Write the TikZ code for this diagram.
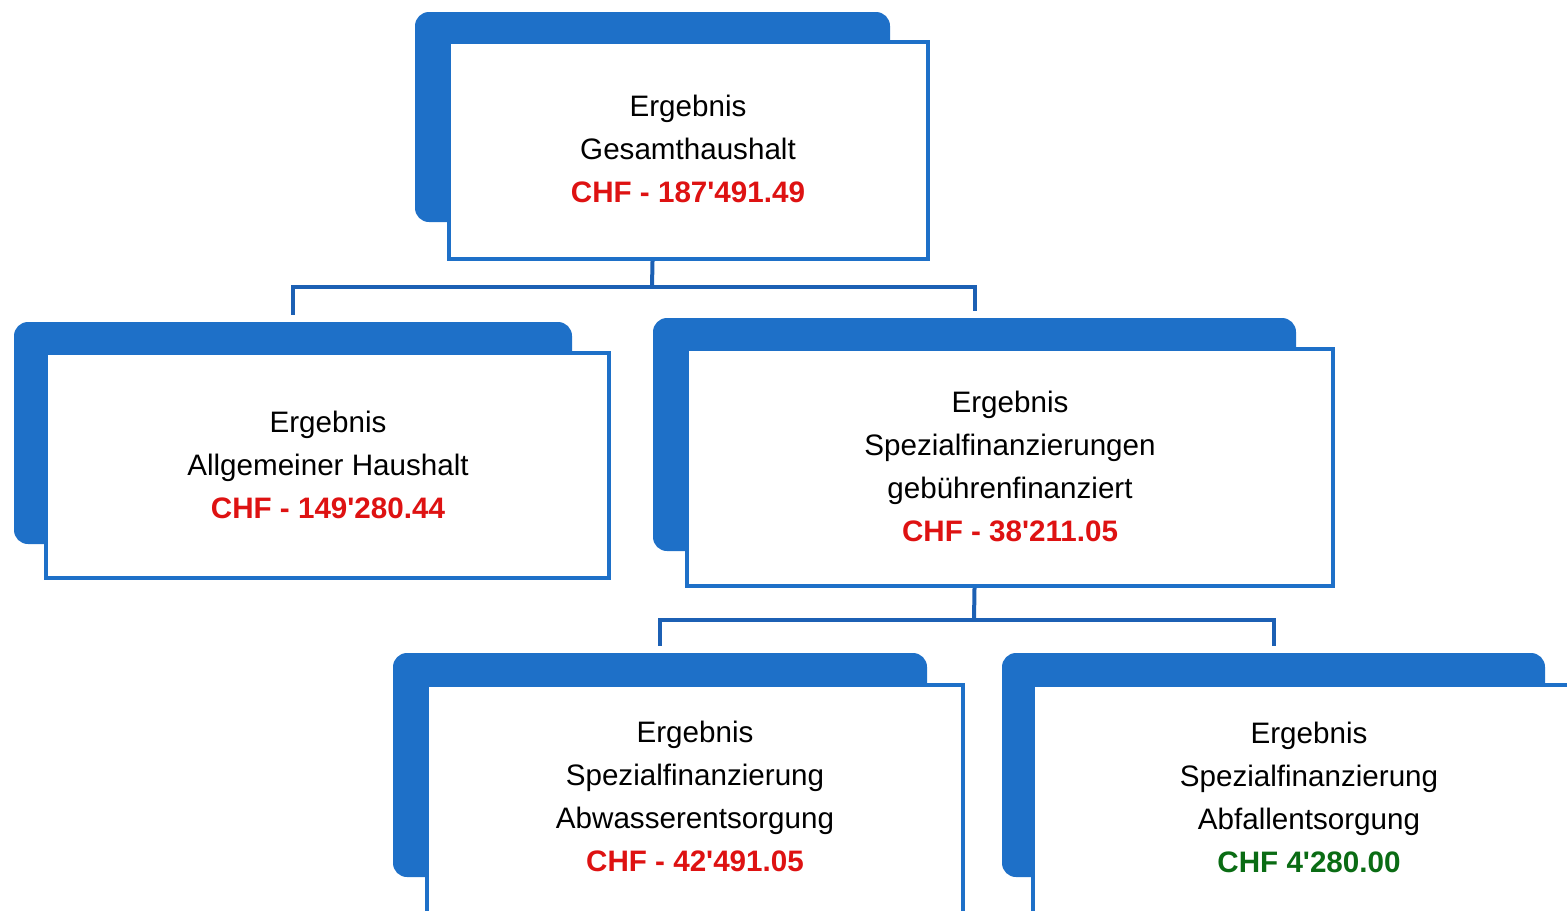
\documentclass[tikz,border=0pt]{standalone}
\usepackage{fontspec}
\setmainfont{Liberation Sans}
\usepackage{xcolor}
\definecolor{boxblue}{RGB}{30,112,200}
\definecolor{lineblue}{RGB}{28,96,180}
\definecolor{minusred}{RGB}{222,18,18}
\definecolor{plusgreen}{RGB}{10,108,20}
\newcommand{\apo}{\textquotesingle}

\begin{document}
\begin{tikzpicture}[x=0.5pt,y=-0.5pt,
  every text node part/.style={align=center},
  back/.style={fill=boxblue,rounded corners=7pt,inner sep=0pt},
  front/.style={draw=boxblue,line width=2.2pt,fill=white,inner sep=0pt},
  txt/.style={font=\fontsize{14.8}{21.5}\selectfont,inner sep=0pt},
  link/.style={draw=lineblue,line width=2pt,shorten <=3.5pt}]
\useasboundingbox (0,0) rectangle (1567,910);
\clip (0,0) rectangle (1567,910);
% Gesamthaushalt
\node [back,minimum width=237.5pt,minimum height=105pt] (gesB) at (652.5,117) {};
\node [front,minimum width=239.5pt,minimum height=108.5pt] (gesF) at (688.5,150.5) {};
\node [txt] (gesT) at (688,149) {Ergebnis \\ Gesamthaushalt \\ \textbf{\color{minusred}CHF - 187\apo491.49}};
% Allgemeiner Haushalt
\node [back,minimum width=279pt,minimum height=111pt] (allB) at (293,433) {};
\node [front,minimum width=281.5pt,minimum height=112.5pt] (allF) at (327.5,465.5) {};
\node [txt] (allT) at (328,465) {Ergebnis \\ Allgemeiner Haushalt \\ \textbf{\color{minusred}CHF - 149\apo280.44}};
% Spezialfinanzierungen
\node [back,minimum width=321.5pt,minimum height=116.5pt] (spfB) at (974.5,434.5) {};
\node [front,minimum width=323pt,minimum height=118.5pt] (spfF) at (1010,467.5) {};
\node [txt] (spfT) at (1010,466.5) {Ergebnis \\ Spezialfinanzierungen \\ gebührenfinanziert \\ \textbf{\color{minusred}CHF - 38\apo211.05}};
% Abwasserentsorgung
\node [back,minimum width=267pt,minimum height=112pt] (abwB) at (660,765) {};
\node [front,minimum width=268pt,minimum height=118pt] (abwF) at (695,803) {};
\node [txt] (abwT) at (695,796) {Ergebnis \\ Spezialfinanzierung \\ Abwasserentsorgung \\ \textbf{\color{minusred}CHF - 42\apo491.05}};
% Abfallentsorgung
\node [back,minimum width=271.5pt,minimum height=112pt] (abfB) at (1273.5,765) {};
\node [front,minimum width=280pt,minimum height=118pt] (abfF) at (1313,803) {};
\node [txt] (abfT) at (1309,797) {Ergebnis \\ Spezialfinanzierung \\ Abfallentsorgung \\ \textbf{\color{plusgreen}CHF 4\apo280.00}};
% connectors
\coordinate (j1) at (652,287);
\coordinate (j2) at (974,620);
\draw [draw=lineblue,line width=2pt] (gesF.south -| gesB.center) -- (j1);
\draw [link,shorten >=3.5pt] (allB.north) |- (j1) -| (spfB.north);
\draw [draw=lineblue,line width=2pt] (spfF.south -| spfB.center) -- (j2);
\draw [link,shorten >=3.5pt] (abwB.north) |- (j2) -| (abfB.north);
\end{tikzpicture}
\end{document}
